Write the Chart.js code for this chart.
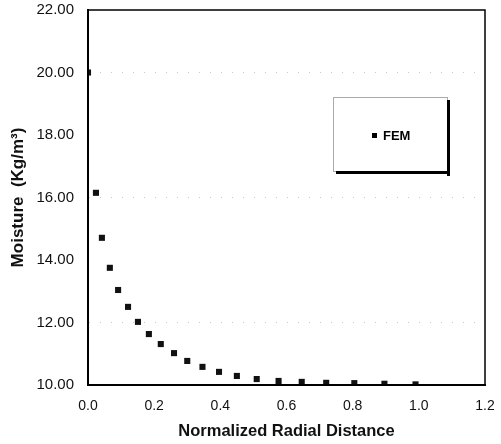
<!DOCTYPE html>
<html>
<head>
<meta charset="utf-8">
<script src="https://cdn.jsdelivr.net/npm/chart.js@4.4.1/dist/chart.umd.min.js"></script>
<style>
    html, body { margin: 0; padding: 0; background: #fff; }
    #wrap { width: 501px; height: 444px; }
</style>
</head>
<body>
<div id="wrap"><canvas id="moistureChart" width="501" height="444"></canvas></div>
<script>
// --- Data ---
const radialDistance = [0, 0.024, 0.042, 0.066, 0.091, 0.121, 0.151, 0.184, 0.22, 0.26, 0.30,
    0.346, 0.396, 0.45, 0.51, 0.576, 0.646, 0.72, 0.805, 0.896, 0.99];
const moistureFEM = [20.0, 16.15, 14.71, 13.75, 13.04, 12.5, 12.02, 11.63, 11.31, 11.02, 10.77,
    10.58, 10.42, 10.29, 10.19, 10.13, 10.10, 10.07, 10.06, 10.04, 10.02];
const seriesLabel = 'FEM';
const yTicks = [10, 12, 14, 16, 18, 20, 22];
const xTicks = [0, 0.2, 0.4, 0.6, 0.8, 1.0, 1.2];
const dottedGridAt = [12, 16, 20];

const FONT = '"Liberation Sans", Arial, sans-serif';

// box round the plot + legend with drop shadow
const framePlugin = {
    id: 'frame',
    afterDatasetsDraw(chart) {
        const { ctx, chartArea: a } = chart;
        ctx.save();
        ctx.strokeStyle = '#000';
        ctx.lineWidth = 1.5;
        ctx.strokeRect(a.left, a.top, a.right - a.left, a.bottom - a.top);
        ctx.lineWidth = 2;
        ctx.beginPath();
        ctx.moveTo(a.left, a.top);
        ctx.lineTo(a.left, a.bottom);
        ctx.lineTo(a.right, a.bottom);
        ctx.stroke();

        // legend box
        const bx = 333, by = 97, bw = 114, bh = 74;
        ctx.strokeStyle = '#aaa';
        ctx.lineWidth = 1;
        ctx.strokeRect(bx + 0.5, by + 0.5, bw, bh);
        ctx.fillStyle = '#000';
        ctx.fillRect(bx + bw, by + 3, 3, bh + 2);
        ctx.fillRect(bx + 3, by + bh, bw, 3);

        const ds = chart.data.datasets[0];
        ctx.fillRect(372, 133, 5, 5);
        ctx.font = 'bold 13px ' + FONT;
        ctx.textBaseline = 'middle';
        ctx.fillText(ds.label, 383, 136);
        ctx.restore();
    }
};

const ctx = document.getElementById('moistureChart').getContext('2d');
new Chart(ctx, {
    type: 'scatter',
    data: {
        datasets: [{
            label: seriesLabel,
            data: radialDistance.map((x, i) => ({ x: x, y: moistureFEM[i] })),
            pointStyle: 'rect',
            pointRadius: 4.3,
            pointBackgroundColor: '#111',
            pointBorderWidth: 0,
            showLine: false
        }]
    },
    options: {
        responsive: false,
        animation: false,
        layout: { padding: { left: 0, top: 10, right: 16, bottom: 0 } },
        plugins: {
            legend: { display: false },
            tooltip: { enabled: false }
        },
        scales: {
            x: {
                type: 'linear',
                min: 0,
                max: 1.2,
                afterBuildTicks: s => { s.ticks = xTicks.map(v => ({ value: v })); },
                afterFit: s => { s.height = 59; s.paddingLeft = 0; s.paddingRight = 0; },
                border: { color: '#000', width: 2 },
                grid: { display: false, drawTicks: false },
                ticks: {
                    padding: 13,
                    color: '#111',
                    font: { family: FONT, size: 14 },
                    callback: v => Number(v).toFixed(1)
                },
                title: {
                    display: true,
                    text: 'Normalized Radial Distance',
                    color: '#111',
                    font: { family: FONT, size: 16.5, weight: 'bold' },
                    padding: { top: 0, bottom: 3 }
                }
            },
            y: {
                type: 'linear',
                min: 10,
                max: 22,
                afterBuildTicks: s => { s.ticks = yTicks.map(v => ({ value: v })); },
                afterFit: s => { s.width = 88; s.paddingTop = 0; s.paddingBottom = 0; },
                grid: {
                    drawTicks: false,
                    color: c => dottedGridAt.includes(c.tick && c.tick.value) ? '#c8c8c8' : 'rgba(0,0,0,0)',
                    lineWidth: 1
                },
                // in v4 border.dash sets the grid line dash
                border: { color: '#000', width: 2, dash: [1, 10], display: true },
                ticks: {
                    padding: 14,
                    color: '#111',
                    font: { family: FONT, size: 15 },
                    callback: v => Number(v).toFixed(2)
                },
                title: {
                    display: true,
                    text: 'Moisture  (Kg/m³)',
                    color: '#111',
                    font: { family: FONT, size: 17, weight: 'bold' },
                    padding: { top: 8, bottom: 0 }
                }
            }
        }
    },
    plugins: [framePlugin]
});
</script>
</body>
</html>
